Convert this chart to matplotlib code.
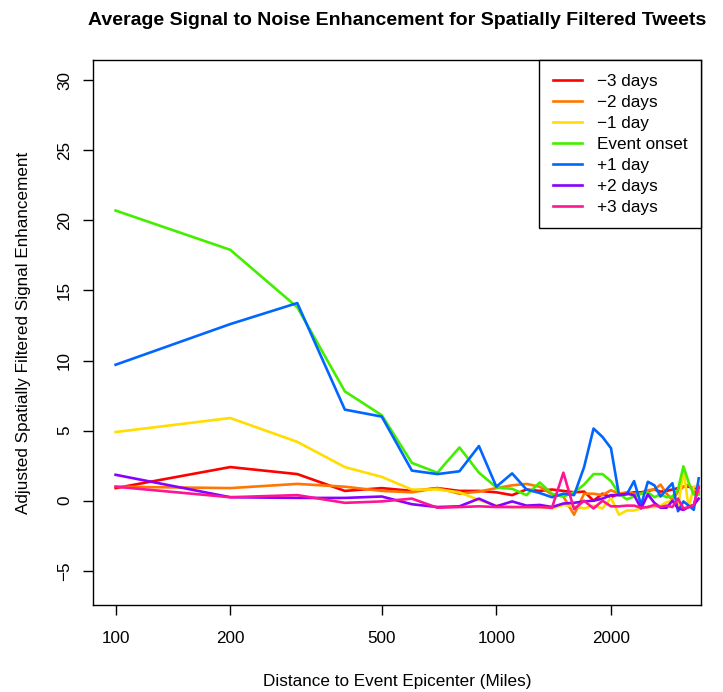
import matplotlib.pyplot as plt

plt.rcParams['font.family'] = ['Liberation Sans', 'DejaVu Sans']

# Distance bins (miles)
distance = [100, 200, 300, 400, 500, 600, 700, 800, 900, 1000,
            1100, 1200, 1300, 1400, 1500, 1600, 1700, 1800, 1900, 2000,
            2100, 2200, 2300, 2400, 2500, 2600, 2700, 2800, 2900, 3000,
            3100, 3200, 3300, 3400]

minus3 = [0.9, 2.4, 1.9, 0.7, 0.9, 0.7, 0.9, 0.7, 0.7, 0.6,
          0.4, 0.8, 0.7, 0.8, 0.7, 0.6, 0.65, 0.0, 0.5, 0.25,
          0.5, 0.5, 0.6, 0.6, 0.7, 0.8, 0.65, 0.7, 0.8, 0.9,
          1.0, 1.0, 0.9, 0.9]
minus2 = [1.0, 0.9, 1.2, 1.0, 0.7, 0.6, 0.9, 0.5, 0.65, 0.9,
          1.1, 1.2, 1.0, 0.45, 0.3, -1.0, 0.5, 0.5, 0.4, 0.75,
          0.5, 0.6, 0.5, 0.5, 0.75, 0.8, 1.15, 0.5, 0.05, 0.65,
          1.0, 1.15, 0.65, 0.65]
minus1 = [4.9, 5.9, 4.2, 2.4, 1.7, 0.8, 0.8, 0.6, 0.05, -0.35,
          -0.45, -0.45, -0.45, -0.55, -0.3, -0.4, -0.55, -0.35, -0.55, 0.2,
          -1.0, -0.7, -0.7, -0.55, -0.45, -0.45, -0.35, -0.1, 0.0, -0.5,
          2.2, -0.5, 1.0, 1.1]
onset = [20.7, 17.9, 13.8, 7.8, 6.1, 2.7, 2.0, 3.8, 2.0, 0.95,
         0.85, 0.4, 1.3, 0.5, 0.3, 0.6, 1.15, 1.9, 1.9, 1.4,
         0.5, 0.1, 0.3, 0.5, 0.6, 0.25, 0.45, 0.25, 0.3, 0.8,
         2.45, 1.3, 0.45, 0.45]
plus1 = [9.7, 12.6, 14.1, 6.5, 6.0, 2.15, 1.9, 2.1, 3.9, 1.0,
         1.95, 0.8, 0.55, 0.25, 0.5, 0.4, 2.4, 5.15, 4.55, 3.75,
         0.4, 0.45, 1.4, -0.3, 1.35, 1.1, 0.3, 0.8, 1.25, -0.75,
         -0.05, -0.35, -0.65, 1.6]
plus2 = [1.85, 0.25, 0.2, 0.2, 0.3, -0.25, -0.45, -0.4, 0.15, -0.4,
         -0.05, -0.35, -0.3, -0.45, -0.2, -0.15, -0.05, 0.0, 0.15, 0.4,
         0.4, 0.5, 0.4, -0.55, 0.45, -0.15, -0.5, -0.5, 0.0, -0.55,
         -0.65, -0.45, -0.3, 0.15]
plus3 = [1.0, 0.25, 0.4, -0.15, -0.05, 0.15, -0.5, -0.45, -0.4, -0.45,
         -0.45, -0.45, -0.45, -0.5, 2.0, -0.6, 0.0, -0.55, 0.0, -0.4,
         -0.4, -0.35, -0.35, -0.5, -0.45, -0.3, -0.45, -0.35, -0.45, 0.15,
         -0.55, -0.45, -0.3, 1.0]

series = [minus3, minus2, minus1, onset, plus1, plus2, plus3]
labels = ['\u22123 days', '\u22122 days', '\u22121 day', 'Event onset',
          '+1 day', '+2 days', '+3 days']
colors = ['#FF0000', '#FF7700', '#FFDD00', '#44EE00', '#0066FF', '#8800FF', '#FF1493']

x_ticks = [100, 200, 500, 1000, 2000]
y_ticks = [-5, 0, 5, 10, 15, 20, 25, 30]

fs = 12.3

fig = plt.figure(figsize=(7.23, 6.92), dpi=100)
ax = fig.add_axes([0.1286, 0.1257, 0.8410, 0.7876])

# One line per day offset
for vals, lab, col in zip(series, labels, colors):
    ax.plot(distance, vals, color=col, lw=1.9, label=lab)

ax.set_xscale('log')
ax.set_xlim(87.2, 3448)
ax.set_ylim(-7.44, 31.44)
ax.set_xticks(x_ticks)
ax.set_xticklabels([str(t) for t in x_ticks])
ax.minorticks_off()
ax.set_yticks(y_ticks)
ax.set_yticklabels([str(t).replace('-', '\u2212') for t in y_ticks],
                   rotation=90, va='center')
ax.tick_params(axis='both', direction='out', length=7, width=1, labelsize=fs)
ax.tick_params(axis='x', pad=12)
ax.tick_params(axis='y', pad=8)

for s in ax.spines.values():
    s.set_linewidth(1)
    s.set_color('black')

ax.set_title('Average Signal to Noise Enhancement for Spatially Filtered Tweets',
             fontsize=14, fontweight='bold', pad=25)
ax.set_xlabel('Distance to Event Epicenter (Miles)', fontsize=fs, labelpad=20)
ax.set_ylabel('Adjusted Spatially Filtered Signal Enhancement', fontsize=fs, labelpad=19)

leg = ax.legend(loc='upper right', borderaxespad=0, fancybox=False,
                edgecolor='black', fontsize=fs, handlelength=1.7,
                handletextpad=0.85, labelspacing=0.35, borderpad=0.8)
leg.get_frame().set_linewidth(1)
leg.get_frame().set_alpha(None)

fig.savefig('out.png', dpi=100)
